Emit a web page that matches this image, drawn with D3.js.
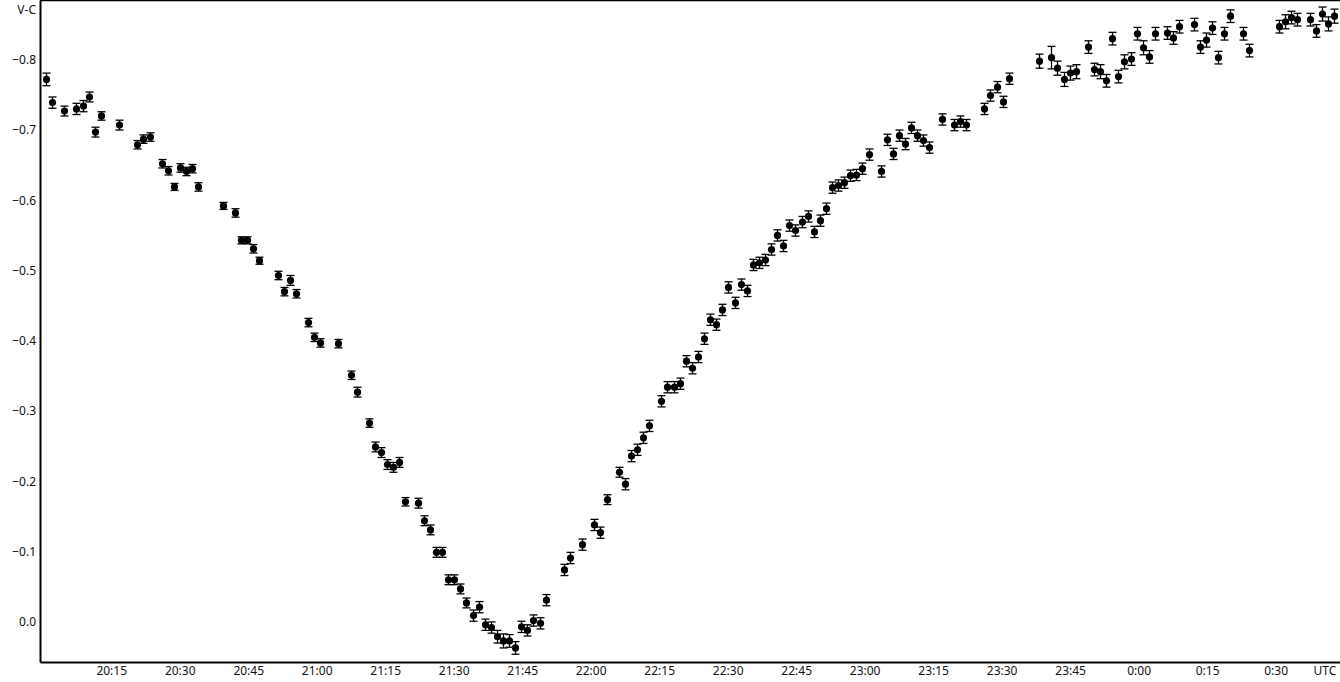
<!DOCTYPE html>
<html>
<head>
<meta charset="utf-8">
<script src="https://cdn.jsdelivr.net/npm/d3@7/dist/d3.min.js"></script>
<style>
  html, body { margin: 0; padding: 0; background: #fff; }
  svg { display: block; }
  text { font-family: "Noto Sans", "Open Sans", sans-serif; font-size: 12px; fill: #111; }
</style>
</head>
<body>
<svg id="chart" width="1340" height="682"></svg>
<script>
// Time of each observation, minutes after 20:00 UTC
const minutes = [
  0.70, 2.01, 4.64, 7.27, 8.74, 10.12, 11.43, 12.74, 16.62, 20.56,
  21.88, 23.41, 26.10, 27.42, 28.73, 30.04, 31.36, 32.67, 33.99, 39.39,
  42.02, 43.34, 44.65, 45.96, 47.28, 51.44, 52.75, 54.07, 55.38, 58.01,
  59.32, 60.63, 64.58, 67.42, 68.74, 71.36, 72.68, 73.99, 75.31, 76.62,
  77.93, 79.25, 82.16, 83.47, 84.79, 86.10, 87.41, 88.73, 90.04, 91.36,
  92.67, 94.14, 95.52, 96.83, 98.15, 99.46, 100.77, 102.09, 103.40, 104.72,
  106.03, 107.35, 108.88, 110.19, 114.13, 115.45, 118.08, 120.71, 122.02, 123.55,
  126.18, 127.49, 128.81, 130.12, 131.43, 132.75, 135.38, 136.69, 138.22, 139.53,
  140.85, 142.16, 143.47, 144.79, 146.10, 147.42, 148.73, 150.04, 151.58, 152.89,
  154.21, 155.52, 156.83, 158.15, 159.46, 160.77, 162.09, 163.40, 164.72, 166.25,
  167.56, 168.88, 170.19, 171.51, 172.82, 174.13, 175.45, 176.76, 178.08, 179.39,
  180.92, 183.55, 184.86, 186.18, 187.49, 188.80, 190.12, 191.43, 192.75, 194.06,
  196.90, 199.53, 200.85, 202.16, 206.10, 207.42, 208.95, 210.26, 211.58, 218.15,
  220.78, 222.09, 223.63, 224.94, 226.26, 228.88, 230.20, 231.51, 232.83, 234.14,
  235.45, 236.77, 238.30, 239.61, 240.93, 242.24, 243.56, 246.19, 247.50, 248.81,
  252.10, 253.41, 254.72, 256.04, 257.35, 258.67, 259.98, 262.83, 264.14, 270.71,
  272.03, 273.34, 274.66, 277.50, 278.82, 280.13, 281.45, 282.76
];

// V-C magnitude difference
const vc = [
  -0.772, -0.739, -0.727, -0.730, -0.734, -0.747, -0.697, -0.720, -0.707, -0.679,
  -0.687, -0.690, -0.652, -0.642, -0.619, -0.646, -0.641, -0.645, -0.619, -0.592,
  -0.582, -0.543, -0.543, -0.531, -0.514, -0.493, -0.470, -0.486, -0.467, -0.426,
  -0.405, -0.397, -0.396, -0.351, -0.327, -0.283, -0.249, -0.241, -0.224, -0.220,
  -0.227, -0.171, -0.169, -0.144, -0.131, -0.099, -0.099, -0.060, -0.060, -0.047,
  -0.027, -0.009, -0.021, 0.004, 0.008, 0.021, 0.027, 0.027, 0.037, 0.007,
  0.012, -0.002, 0.002, -0.031, -0.074, -0.091, -0.110, -0.138, -0.127, -0.174,
  -0.213, -0.196, -0.236, -0.245, -0.262, -0.279, -0.314, -0.334, -0.334, -0.339,
  -0.371, -0.361, -0.377, -0.403, -0.430, -0.423, -0.444, -0.476, -0.454, -0.480,
  -0.471, -0.508, -0.511, -0.515, -0.530, -0.550, -0.535, -0.564, -0.557, -0.569,
  -0.577, -0.555, -0.571, -0.588, -0.618, -0.621, -0.625, -0.635, -0.636, -0.645,
  -0.665, -0.641, -0.686, -0.666, -0.692, -0.680, -0.703, -0.692, -0.685, -0.675,
  -0.715, -0.707, -0.712, -0.707, -0.730, -0.749, -0.761, -0.740, -0.773, -0.798,
  -0.803, -0.788, -0.772, -0.781, -0.783, -0.818, -0.786, -0.783, -0.770, -0.830,
  -0.776, -0.797, -0.801, -0.837, -0.817, -0.804, -0.837, -0.838, -0.831, -0.847,
  -0.850, -0.818, -0.828, -0.845, -0.803, -0.837, -0.862, -0.837, -0.813, -0.847,
  -0.854, -0.860, -0.857, -0.857, -0.841, -0.865, -0.851, -0.862
];

// error of each point (mag)
const err = [
  0.009, 0.008, 0.007, 0.008, 0.008, 0.007, 0.007, 0.006, 0.007, 0.006,
  0.006, 0.006, 0.006, 0.006, 0.005, 0.006, 0.006, 0.006, 0.006, 0.005,
  0.006, 0.005, 0.005, 0.006, 0.005, 0.006, 0.006, 0.007, 0.006, 0.006,
  0.006, 0.006, 0.006, 0.006, 0.007, 0.006, 0.007, 0.007, 0.007, 0.007,
  0.007, 0.006, 0.007, 0.007, 0.007, 0.007, 0.007, 0.007, 0.007, 0.007,
  0.007, 0.008, 0.008, 0.008, 0.008, 0.009, 0.010, 0.009, 0.009, 0.008,
  0.008, 0.008, 0.008, 0.008, 0.008, 0.008, 0.008, 0.008, 0.008, 0.007,
  0.007, 0.008, 0.008, 0.008, 0.008, 0.008, 0.008, 0.008, 0.008, 0.008,
  0.008, 0.008, 0.008, 0.008, 0.008, 0.008, 0.008, 0.008, 0.008, 0.008,
  0.008, 0.008, 0.008, 0.008, 0.008, 0.008, 0.008, 0.008, 0.008, 0.008,
  0.008, 0.008, 0.008, 0.008, 0.008, 0.008, 0.008, 0.008, 0.008, 0.008,
  0.008, 0.008, 0.008, 0.008, 0.008, 0.008, 0.008, 0.008, 0.008, 0.008,
  0.008, 0.008, 0.008, 0.008, 0.008, 0.008, 0.008, 0.008, 0.008, 0.010,
  0.016, 0.010, 0.010, 0.010, 0.010, 0.009, 0.009, 0.010, 0.009, 0.009,
  0.009, 0.010, 0.009, 0.009, 0.010, 0.009, 0.009, 0.009, 0.009, 0.009,
  0.009, 0.009, 0.010, 0.009, 0.009, 0.009, 0.009, 0.009, 0.009, 0.009,
  0.010, 0.009, 0.009, 0.009, 0.009, 0.010, 0.010, 0.010
];

const xTicks = [15, 30, 45, 60, 75, 90, 105, 120, 135, 150, 165, 180, 195, 210, 225, 240, 255, 270];
const yTicks = [-0.8, -0.7, -0.6, -0.5, -0.4, -0.3, -0.2, -0.1, 0.0];
const yTitle = "V-C";
const xUnit = "UTC";

const svg = d3.select("#chart");
const padL = 40, padT = 0, padR = 1340, padB = 662;

const x = d3.scaleLinear().domain([-0.6, 284.1]).range([padL, padR]);
const y = d3.scaleLinear().domain([0.057, -0.885]).range([padB, padT]);

function fmtTime(m) {
  const t = 20 * 60 + m;
  const h = Math.floor(t / 60) % 24;
  const mm = Math.round(t % 60);
  return h + ":" + String(mm).padStart(2, "0");
}

// axes
const xAxis = d3.axisBottom(x).tickValues(xTicks).tickSize(0).tickPadding(4).tickFormat(fmtTime);
const gx = svg.append("g").attr("transform", `translate(0,${padB})`).call(xAxis);
gx.select(".domain").attr("stroke", "#000").attr("stroke-width", 2);
gx.selectAll("text").style("font-family", "'Noto Sans', 'Open Sans', sans-serif").style("font-size", "12px").attr("fill", "#111");

const yAxis = d3.axisLeft(y).tickValues(yTicks).tickSize(0).tickPadding(4).tickFormat(d3.format(".1f"));
const gy = svg.append("g").attr("transform", `translate(${padL},0)`).call(yAxis);
gy.select(".domain").attr("stroke", "#000").attr("stroke-width", 2);
gy.selectAll("text").style("font-family", "'Noto Sans', 'Open Sans', sans-serif").style("font-size", "12px").attr("fill", "#111");

// top frame line
svg.append("line").attr("x1", padL).attr("x2", padR).attr("y1", 0.5).attr("y2", 0.5)
  .attr("stroke", "#000").attr("stroke-width", 1.5);

svg.append("text").attr("x", 36).attr("y", 14).attr("text-anchor", "end").text(yTitle);
svg.append("text").attr("x", 1325).attr("y", padB + 13).attr("text-anchor", "middle").text(xUnit);

const data = minutes.map((m, i) => ({ m, v: vc[i], e: err[i] }));

const g = svg.append("g");
const pts = g.selectAll("g.pt").data(data).join("g").attr("class", "pt");
pts.append("line")
  .attr("x1", d => Math.round(x(d.m)) + 0.5).attr("x2", d => Math.round(x(d.m)) + 0.5)
  .attr("y1", d => y(d.v - d.e)).attr("y2", d => y(d.v + d.e))
  .attr("stroke", "#000").attr("stroke-width", 1.3);
pts.append("line")
  .attr("x1", d => Math.round(x(d.m)) - 3.5).attr("x2", d => Math.round(x(d.m)) + 4.5)
  .attr("y1", d => y(d.v - d.e)).attr("y2", d => y(d.v - d.e))
  .attr("stroke", "#000").attr("stroke-width", 1.3);
pts.append("line")
  .attr("x1", d => Math.round(x(d.m)) - 3.5).attr("x2", d => Math.round(x(d.m)) + 4.5)
  .attr("y1", d => y(d.v + d.e)).attr("y2", d => y(d.v + d.e))
  .attr("stroke", "#000").attr("stroke-width", 1.3);
pts.append("circle")
  .attr("cx", d => Math.round(x(d.m)) + 0.5).attr("cy", d => y(d.v))
  .attr("r", 3.6).attr("fill", "#000");
</script>
</body>
</html>
